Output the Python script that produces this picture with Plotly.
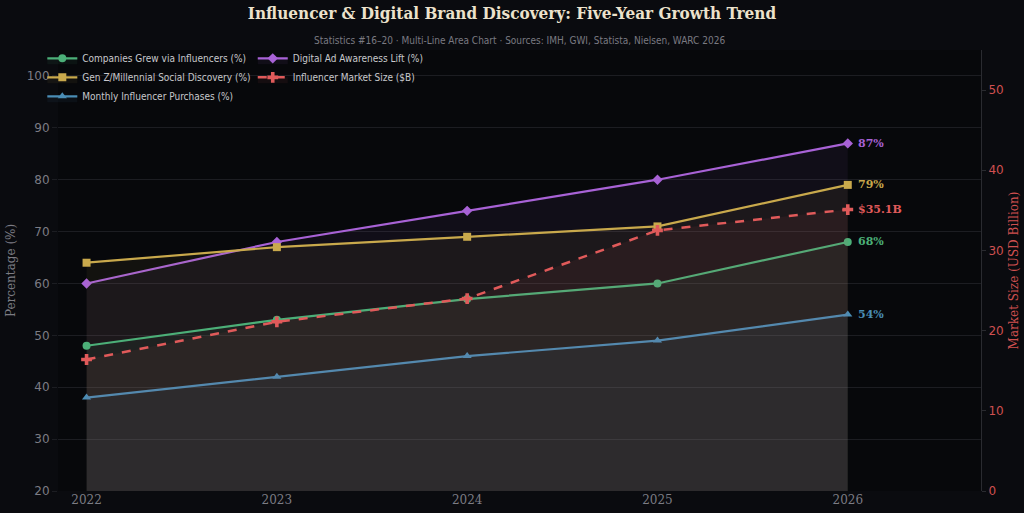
import plotly.graph_objects as go

years = [2022, 2023, 2024, 2025, 2026]
companies_grew = [48, 53, 57, 60, 68]
genz_discovery = [64, 67, 69, 71, 79]
monthly_purchases = [38, 42, 46, 49, 54]
ad_awareness = [60, 68, 74, 80, 87]
market_size = [16.4, 21.1, 24.0, 32.5, 35.1]

BG = "#0a0b0f"
GRID = "#1c1d22"
TICK = "#7c7c84"

series = [
    dict(name="Digital Ad Awareness Lift (%)", y=ad_awareness, color="#a862d6", sym="diamond", legend="legend2", rank=1, label="87%"),
    dict(name="Gen Z/Millennial Social Discovery (%)", y=genz_discovery, color="#c9a94c", sym="square", legend="legend", rank=2, label="79%"),
    dict(name="Companies Grew via Influencers (%)", y=companies_grew, color="#4caf78", sym="circle", legend="legend", rank=1, label="68%"),
    dict(name="Monthly Influencer Purchases (%)", y=monthly_purchases, color="#4a8db5", sym="triangle-up", legend="legend", rank=3, label="54%"),
]

def rgba(hexc, a):
    h = hexc.lstrip("#")
    r, g, b = int(h[0:2], 16), int(h[2:4], 16), int(h[4:6], 16)
    return f"rgba({r},{g},{b},{a})"

fig = go.Figure()
for s in series:
    fig.add_trace(go.Scatter(
        x=years, y=s["y"], name=s["name"], mode="lines+markers",
        line=dict(color=s["color"], width=2.2),
        marker=dict(symbol=s["sym"], size=8, color=s["color"]),
        fill="tozeroy", fillcolor=rgba(s["color"], 0.065),
        legend=s["legend"], legendrank=s["rank"],
    ))

fig.add_trace(go.Scatter(
    x=years, y=market_size, name="Influencer Market Size ($B)", mode="lines+markers",
    line=dict(color="#e05a5a", width=2.5, dash="dash"),
    marker=dict(symbol="cross", size=9, color="#e05a5a"),
    fill="tozeroy", fillcolor=rgba("#e05a5a", 0.065),
    yaxis="y2", legend="legend2", legendrank=2,
))

for s in series:
    fig.add_annotation(x=years[-1], y=s["y"][-1], text=f"<b>{s['label']}</b>", showarrow=False,
                       xanchor="left", xshift=8, font=dict(family="DejaVu Serif", size=11, color=s["color"]))
fig.add_annotation(x=years[-1], y=market_size[-1], yref="y2", text=f"<b>${market_size[-1]}B</b>", showarrow=False,
                   xanchor="left", xshift=8, font=dict(family="DejaVu Serif", size=11, color="#e05a5a"))

legend_common = dict(bgcolor="rgba(10,11,15,0)", borderwidth=0,
                     font=dict(family="DejaVu Sans Condensed, DejaVu Sans", size=10, color="#c8c8cc"),
                     xanchor="left", yanchor="top", y=1.014, tracegroupgap=0, itemwidth=30)

fig.update_layout(
    width=1024, height=513,
    paper_bgcolor=BG, plot_bgcolor="#07080b",
    margin=dict(l=58, r=43, t=50, b=22),
    title=dict(text="<b>Influencer & Digital Brand Discovery: Five-Year Growth Trend</b>",
               x=0.5, xanchor="center", y=1 - 13 / 513, yanchor="middle",
               font=dict(family="DejaVu Serif Condensed, DejaVu Serif", size=17, color="#ece2cc")),
    annotations=list(fig.layout.annotations) + [dict(
        text="Statistics #16–20 · Multi-Line Area Chart · Sources: IMH, GWI, Statista, Nielsen, WARC 2026",
        xref="paper", yref="paper", x=0.5, y=1.0, yshift=2, xanchor="center", yanchor="bottom",
        showarrow=False, font=dict(family="DejaVu Sans Condensed, DejaVu Sans", size=10, color="#7a7a82"))],
    xaxis=dict(range=[2021.85, 2026.7], tickvals=years, showgrid=False, zeroline=False, automargin=False,
               tickfont=dict(family="DejaVu Serif", size=12, color=TICK), ticks="", showline=False),
    yaxis=dict(range=[20, 105], dtick=10, gridcolor=GRID, zeroline=False, showline=False, automargin=False,
               ticks="outside", ticklen=5, tickcolor=GRID,
               tickfont=dict(family="DejaVu Sans", size=12, color=TICK),
               title=dict(text="Percentage (%)", font=dict(family="DejaVu Serif", size=12, color=TICK), standoff=8)),
    yaxis2=dict(range=[0, 55], dtick=10, overlaying="y", side="right", showgrid=False, zeroline=False,
                automargin=False, showline=True, linecolor="#2a2b30", ticks="outside", ticklen=4, tickcolor="#2a2b30",
                tickfont=dict(family="DejaVu Sans", size=12, color="#d05050"),
                title=dict(text="Market Size (USD Billion)", font=dict(family="DejaVu Serif", size=12, color="#d05050"), standoff=6)),
    legend=dict(x=-0.017, **legend_common),
    legend2=dict(x=0.211, **legend_common),
    showlegend=True,
)

fig.write_html("out.html")
